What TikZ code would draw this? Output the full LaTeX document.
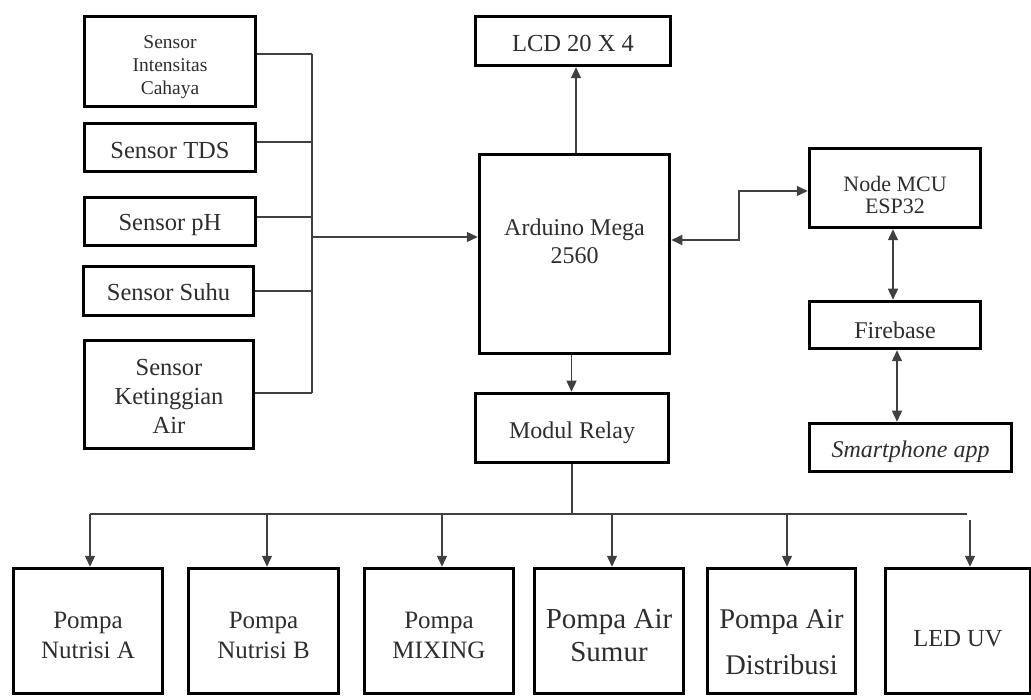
\documentclass[tikz,border=0pt]{standalone}
\usepackage{fontspec}
\setmainfont{Liberation Serif}
\usetikzlibrary{arrows.meta}
\newcommand{\tx}[2]{\raisebox{\dimexpr#1-9pt\relax}[0pt][0pt]{\begin{tabular}{@{}c@{}}#2\end{tabular}}}
\newcommand{\fs}[2]{\fontsize{#1}{#2}\selectfont}
\begin{document}
\begin{tikzpicture}[x=1pt,y=-1pt,
  box/.style={draw, line width=3.5pt, inner sep=0pt, align=center, text=black!82, font=\fs{24.5}{28}},
  wire/.style={line width=1.4pt, draw=black!75},
  arr/.style={wire,-{Triangle[length=11pt,width=10pt]}},
  darr/.style={wire,{Triangle[length=11pt,width=10pt]}-{Triangle[length=11pt,width=10pt]}}]
\useasboundingbox (0,0) rectangle (1031,700);
\clip (0,0) rectangle (1031,700);
% sensors
\node[box, minimum width=171pt, minimum height=90pt, font=\fs{19.5}{23}] (cahaya) at (170,61.5) {\tx{-2pt}{Sensor\\Intensitas\\Cahaya}};
\node[box, minimum width=171pt, minimum height=48pt] (tds) at (170,147.5) {\tx{-3pt}{Sensor TDS}};
\node[box, minimum width=171pt, minimum height=48pt] (ph) at (170,221.5) {\tx{-1pt}{Sensor pH}};
\node[box, minimum width=170pt, minimum height=49pt] (suhu) at (168.5,291) {\tx{-1pt}{Sensor Suhu}};
\node[box, minimum width=169pt, minimum height=108pt, font=\fs{24.5}{29}] (ketinggian) at (169,394.5) {\tx{-1pt}{Sensor\\Ketinggian\\Air}};
% centre
\node[box, minimum width=195pt, minimum height=49pt] (lcd) at (573,41) {\tx{-2pt}{LCD 20 X 4}};
\node[box, minimum width=190pt, minimum height=199pt, font=\fs{24}{28}] (arduino) at (574.5,254) {\tx{13pt}{Arduino Mega\\2560}};
\node[box, minimum width=193pt, minimum height=69pt, font=\fs{24}{28}] (relay) at (572,428) {\tx{-2pt}{Modul Relay}};
% right
\node[box, minimum width=171pt, minimum height=79pt, font=\fs{22}{22}] (mcu) at (895,188) {\tx{-6pt}{Node MCU\\ESP32}};
\node[box, minimum width=171pt, minimum height=47pt, font=\fs{24}{28}] (firebase) at (895,325) {\tx{-5pt}{Firebase}};
\node[box, minimum width=202pt, minimum height=48pt, font=\fs{24}{28}] (phone) at (910.5,447.5) {\tx{-2pt}{\itshape Smartphone app}};
% outputs
\node[box, minimum width=149pt, minimum height=125pt, font=\fs{25}{30}] (b1) at (88,631) {\tx{-4pt}{Pompa\\Nutrisi A}};
\node[box, minimum width=150pt, minimum height=125pt, font=\fs{25}{30}] (b2) at (263.5,631) {\tx{-4pt}{Pompa\\Nutrisi B}};
\node[box, minimum width=149pt, minimum height=125pt, font=\fs{25}{30}] (b3) at (439,631) {\tx{-4pt}{Pompa\\MIXING}};
\node[box, minimum width=149pt, minimum height=125pt, font=\fs{29}{33}] (b4) at (609,631) {\tx{-5pt}{Pompa Air\\Sumur}};
\node[box, minimum width=148pt, minimum height=125pt, font=\fs{28.5}{46}] (b5) at (781.5,631) {\tx{-9pt}{Pompa Air\\Distribusi}};
\node[box, minimum width=145pt, minimum height=125pt, font=\fs{24.5}{28}] (b6) at (958,631) {\tx{-7pt}{LED UV}};
% sensor bus
\coordinate (bx) at (312,0);
\coordinate (busT) at (312,54);
\coordinate (busB) at (312,393);
\coordinate (busM) at (312,237);
\draw[wire] ([yshift=7.5pt]cahaya.east) -- ([yshift=7.5pt]cahaya.east -| bx);
\draw[wire] ([yshift=5.5pt]tds.east) -- ([yshift=5.5pt]tds.east -| bx);
\draw[wire] ([yshift=4.5pt]ph.east) -- ([yshift=4.5pt]ph.east -| bx);
\draw[wire] (suhu.east) -- (suhu.east -| bx);
\draw[wire] ([yshift=1.5pt]ketinggian.east) -- ([yshift=1.5pt]ketinggian.east -| bx);
\draw[wire] (busT) -- (busB);
\draw[arr] (busM) -- (busM -| arduino.west);
% arduino links
\draw[arr] ([xshift=1.5pt]arduino.north) -- ([xshift=1.5pt]arduino.north |- lcd.south);
\draw[arr] ([xshift=-3pt]arduino.south) -- ([xshift=-3pt]arduino.south |- relay.north);
\coordinate (jog) at (739,0);
\draw[darr] ([yshift=14pt]arduino.east) -- ([yshift=14pt]arduino.east -| jog) |- ([yshift=-3pt]mcu.west);
\draw[darr] ([xshift=-2pt]mcu.south) -- ([xshift=-2pt]mcu.south |- firebase.north);
\draw[darr] ([xshift=2pt]firebase.south) -- ([xshift=2pt]firebase.south |- phone.north);
% relay bus
\coordinate (hb) at (0,514);
\coordinate (hL) at (90,514);
\coordinate (hR) at (967,514);
\draw[wire] (relay.south) -- (relay.south |- hb);
\draw[wire] (hL) -- (hR);
\coordinate (d1) at (90,514);
\coordinate (d2) at (267,514);
\coordinate (d3) at (442,514);
\coordinate (d4) at (612,514);
\coordinate (d5) at (787,514);
\coordinate (d6) at (970,520);
\draw[arr] (d1) -- (d1 |- b1.north);
\draw[arr] (d2) -- (d2 |- b2.north);
\draw[arr] (d3) -- (d3 |- b3.north);
\draw[arr] (d4) -- (d4 |- b4.north);
\draw[arr] (d5) -- (d5 |- b5.north);
\draw[arr] (d6) -- (d6 |- b6.north);
\end{tikzpicture}
\end{document}
